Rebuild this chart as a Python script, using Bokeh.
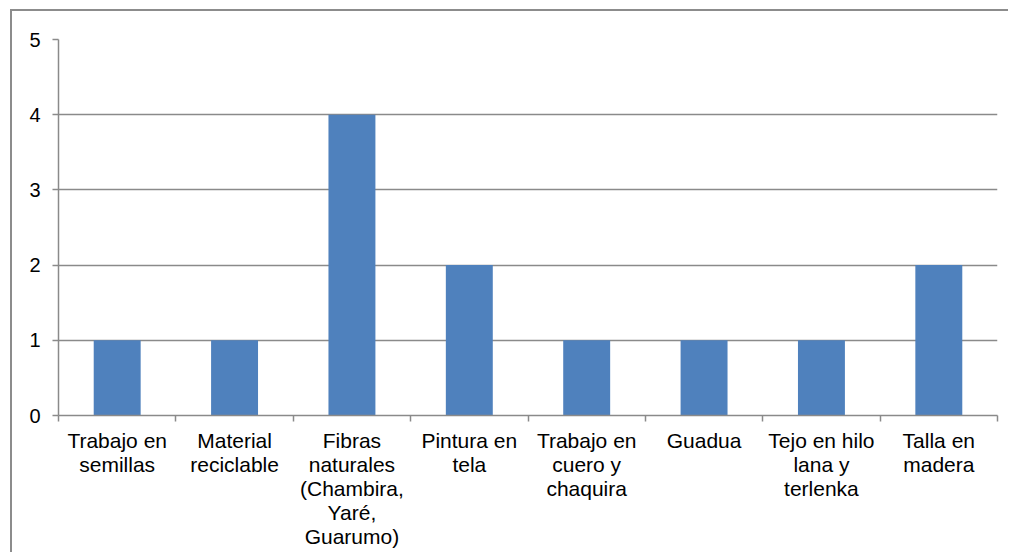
from bokeh.plotting import figure
from bokeh.models import Range1d, FixedTicker, ColumnDataSource
from bokeh.embed import file_html
from bokeh.resources import INLINE

categories = [
    "Trabajo en\nsemillas",
    "Material\nreciclable",
    "Fibras\nnaturales\n(Chambira,\nYaré,\nGuarumo)",
    "Pintura en\ntela",
    "Trabajo en\ncuero y\nchaquira",
    "Guadua",
    "Tejo en hilo\nlana y\nterlenka",
    "Talla en\nmadera",
]
values = [1, 1, 4, 2, 1, 1, 1, 2]
y_ticks = [0, 1, 2, 3, 4, 5]

GRAY = "#8a8a8a"
FONT = "Liberation Sans"

n = len(categories)
centers = [i + 0.5 for i in range(n)]
bounds = [i for i in range(n + 1)]

p = figure(width=1008, height=552, output_backend="svg", toolbar_location=None,
           x_range=Range1d(0, n), y_range=Range1d(0, 5),
           min_border_left=58, min_border_right=11, min_border_top=39, min_border_bottom=137)
p.border_fill_color = None
p.outline_line_color = None
p.styles = {"box-shadow": "inset 10px 9px 0 #ffffff, inset 12px 11px 0 #8c8c8c"}

src = ColumnDataSource(dict(x=centers, top=values))
p.vbar(x="x", top="top", bottom=0, width=0.4, source=src,
       fill_color="#4F81BD", line_color=None)

p.xgrid.visible = False
p.ygrid.ticker = FixedTicker(ticks=y_ticks)
p.ygrid.grid_line_color = GRAY
p.ygrid.grid_line_width = 1.5
p.ygrid.level = "underlay"

xa = p.xaxis[0]
xa.ticker = FixedTicker(ticks=centers, minor_ticks=bounds)
xa.major_label_overrides = {c: lab for c, lab in zip(centers, categories)}
xa.major_tick_out = 0
xa.major_tick_in = 0
xa.minor_tick_out = 6
xa.minor_tick_in = 0
xa.minor_tick_line_color = GRAY
xa.minor_tick_line_width = 1.5
xa.axis_line_color = GRAY
xa.axis_line_width = 1.5
xa.major_label_text_font = FONT
xa.major_label_text_font_size = "21px"
xa.major_label_text_color = "#000000"
xa.major_label_standoff = 7
xa.major_label_text_line_height = 1.05

ya = p.yaxis[0]
ya.ticker = FixedTicker(ticks=y_ticks)
ya.major_tick_out = 6
ya.major_tick_in = 0
ya.minor_tick_line_color = None
ya.major_tick_line_color = GRAY
ya.major_tick_line_width = 1.5
ya.axis_line_color = GRAY
ya.axis_line_width = 1.5
ya.major_label_text_font = FONT
ya.major_label_text_font_size = "20px"
ya.major_label_text_color = "#000000"
ya.major_label_standoff = 12

open("out.html", "w").write(file_html(p, INLINE))
